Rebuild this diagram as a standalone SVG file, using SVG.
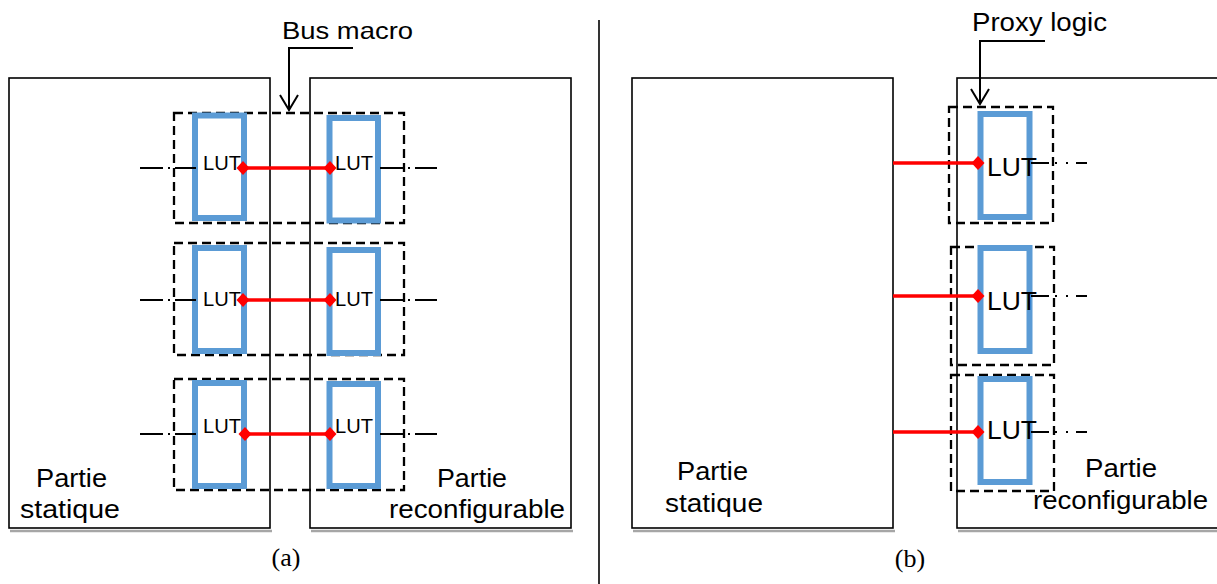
<svg xmlns="http://www.w3.org/2000/svg" width="1217" height="584" viewBox="0 0 1217 584">
<defs>
<style>
.box{fill:#fff;stroke:#000;stroke-width:1.6}
.shadow{fill:none;stroke:#a6a6a6;stroke-width:2.5}
.dash{fill:none;stroke:#000;stroke-width:2.3;stroke-dasharray:9 5}
.lut{fill:none;stroke:#5b9bd5;stroke-width:6}
.red{stroke:#ff0000;stroke-width:3.5;fill:none}
.dd{stroke:#000;stroke-width:2.2;fill:none;stroke-dasharray:23 5 2 5}
.dd2{stroke:#000;stroke-width:2.2;fill:none;stroke-dasharray:18 6 2 9 2 8 12}
.arr{stroke:#000;stroke-width:2;fill:none}
.t{font-family:"Liberation Sans",Arial,sans-serif;fill:#000}
.cap{font-family:"Liberation Serif","Times New Roman",serif;fill:#000}
</style>
<marker id="dia" viewBox="-7 -7 14 14" markerWidth="14" markerHeight="14" refX="0" refY="0" markerUnits="userSpaceOnUse" orient="auto">
<path d="M-6.5 0 L0 -7 L6.5 0 L0 7 Z" fill="#ff0000"/>
</marker>
</defs>
<rect width="1217" height="584" fill="#fff"/>

<!-- panel (a) -->
<g id="static-a">
<line class="shadow" x1="10" y1="531" x2="272" y2="531"/>
<rect class="box" x="9" y="78" width="261" height="450"/>
<text class="t" font-size="26" x="36" y="487" textLength="71" lengthAdjust="spacingAndGlyphs">Partie</text>
<text class="t" font-size="26" x="20" y="518" textLength="100" lengthAdjust="spacingAndGlyphs">statique</text>
</g>
<g id="reconfig-a">
<line class="shadow" x1="311" y1="531" x2="573" y2="531"/>
<rect class="box" x="310" y="78" width="261" height="450"/>
<text class="t" font-size="26" x="437" y="487" textLength="70" lengthAdjust="spacingAndGlyphs">Partie</text>
<text class="t" font-size="26" x="389" y="518" textLength="176" lengthAdjust="spacingAndGlyphs">reconfigurable</text>
</g>

<g id="busmacro-a1"><rect class="dash" x="174" y="113" width="230" height="110"/></g>
<g id="busmacro-a2"><rect class="dash" x="174" y="243" width="230" height="112"/></g>
<g id="busmacro-a3"><rect class="dash" x="174" y="379" width="230" height="111"/></g>

<g id="lut-a1l"><rect class="lut" x="195" y="115.5" width="49" height="102.5"/><text class="t" font-size="19.5" x="203" y="170" textLength="38" lengthAdjust="spacingAndGlyphs">LUT</text></g>
<g id="lut-a1r"><rect class="lut" x="329.5" y="118" width="48.5" height="102.5"/><text class="t" font-size="19.5" x="335" y="170" textLength="38" lengthAdjust="spacingAndGlyphs">LUT</text></g>
<g id="lut-a2l"><rect class="lut" x="195" y="248" width="49" height="103"/><text class="t" font-size="19.5" x="203" y="306" textLength="38" lengthAdjust="spacingAndGlyphs">LUT</text></g>
<g id="lut-a2r"><rect class="lut" x="329.5" y="250" width="48.5" height="103"/><text class="t" font-size="19.5" x="335" y="306" textLength="38" lengthAdjust="spacingAndGlyphs">LUT</text></g>
<g id="lut-a3l"><rect class="lut" x="195" y="383" width="49" height="103"/><text class="t" font-size="19.5" x="203" y="433" textLength="38" lengthAdjust="spacingAndGlyphs">LUT</text></g>
<g id="lut-a3r"><rect class="lut" x="329.5" y="384" width="48.5" height="102"/><text class="t" font-size="19.5" x="335" y="433" textLength="38" lengthAdjust="spacingAndGlyphs">LUT</text></g>

<g id="label-busmacro">
<text class="t" font-size="24" x="282" y="39" textLength="131" lengthAdjust="spacingAndGlyphs">Bus macro</text>
</g>

<!-- divider -->
<line x1="599" y1="20" x2="599" y2="584" stroke="#000" stroke-width="1.6"/>
<text class="cap" font-size="26" x="286" y="566" text-anchor="middle">(a)</text>

<!-- panel (b) -->
<g id="static-b">
<line class="shadow" x1="633" y1="531" x2="895" y2="531"/>
<rect class="box" x="632" y="78" width="261" height="450"/>
<text class="t" font-size="26" x="677" y="480" textLength="71" lengthAdjust="spacingAndGlyphs">Partie</text>
<text class="t" font-size="26" x="665" y="512" textLength="98" lengthAdjust="spacingAndGlyphs">statique</text>
</g>
<g id="reconfig-b">
<line class="shadow" x1="958" y1="531" x2="1217" y2="531"/>
<line class="shadow" x1="958" y1="80.5" x2="1217" y2="80.5" stroke-width="1.5"/>
<rect class="box" x="957" y="78" width="262" height="450"/>
<text class="t" font-size="26" x="1085" y="477" textLength="72" lengthAdjust="spacingAndGlyphs">Partie</text>
<text class="t" font-size="26" x="1033" y="509" textLength="175" lengthAdjust="spacingAndGlyphs">reconfigurable</text>
</g>

<g id="proxy-b1"><rect class="dash" x="949" y="107" width="104" height="116"/></g>
<g id="proxy-b2"><rect class="dash" x="951" y="247" width="103" height="118"/></g>
<g id="proxy-b3"><rect class="dash" x="951" y="375" width="103" height="116"/></g>

<g id="lut-b1"><rect class="lut" x="980.5" y="114" width="49" height="103"/><text class="t" font-size="25" x="987" y="176" textLength="50" lengthAdjust="spacingAndGlyphs">LUT</text></g>
<g id="lut-b2"><rect class="lut" x="980.5" y="248" width="49" height="103"/><text class="t" font-size="25" x="987" y="310" textLength="50" lengthAdjust="spacingAndGlyphs">LUT</text></g>
<g id="lut-b3"><rect class="lut" x="980.5" y="379" width="49" height="103"/><text class="t" font-size="25" x="987" y="439" textLength="50" lengthAdjust="spacingAndGlyphs">LUT</text></g>

<g id="label-proxy">
<text class="t" font-size="26" x="972" y="31" textLength="135" lengthAdjust="spacingAndGlyphs">Proxy logic</text>
</g>
<text class="cap" font-size="26" x="910" y="567" text-anchor="middle">(b)</text>

<!-- connectors -->
<g id="connectors">
<line class="red" x1="243" y1="168" x2="330" y2="168" marker-start="url(#dia)" marker-end="url(#dia)"/>
<line class="red" x1="243" y1="300" x2="330" y2="300" marker-start="url(#dia)" marker-end="url(#dia)"/>
<line class="red" x1="245" y1="434" x2="330" y2="434" marker-start="url(#dia)" marker-end="url(#dia)"/>
<line class="dd" x1="140" y1="168" x2="196" y2="168"/>
<line class="dd" x1="140" y1="300" x2="196" y2="300"/>
<line class="dd" x1="140" y1="434" x2="196" y2="434"/>
<line class="dd" x1="380" y1="168" x2="437" y2="168"/>
<line class="dd" x1="380" y1="300" x2="437" y2="300"/>
<line class="dd" x1="380" y1="434" x2="437" y2="434"/>

<line class="red" x1="893" y1="163" x2="978" y2="163" marker-end="url(#dia)"/>
<line class="red" x1="893" y1="296" x2="978" y2="296" marker-end="url(#dia)"/>
<line class="red" x1="893" y1="432" x2="978" y2="432" marker-end="url(#dia)"/>
<line class="dd2" x1="1031" y1="163" x2="1087" y2="163"/>
<line class="dd2" x1="1031" y1="296" x2="1087" y2="296"/>
<line class="dd2" x1="1031" y1="432" x2="1087" y2="432"/>

<polyline class="arr" points="353,48 289,48 289,110"/>
<polyline class="arr" points="280,95 289,110 298,95"/>
<polyline class="arr" points="1045,41 980,41 980,104"/>
<polyline class="arr" points="971,89 980,104 989,89"/>
</g>
</svg>
